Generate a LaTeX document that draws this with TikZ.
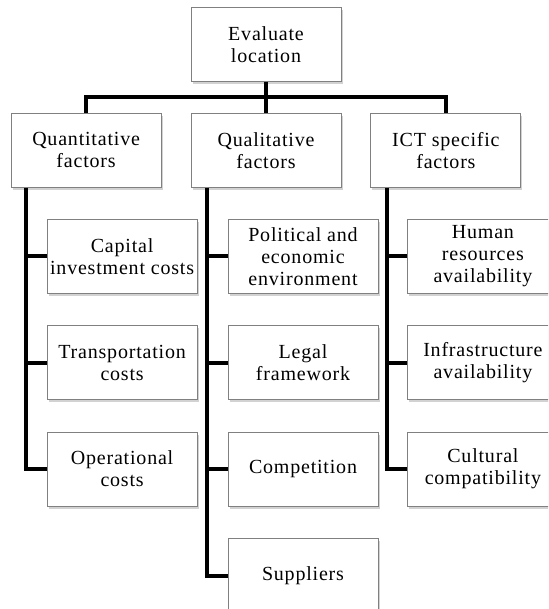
\documentclass[tikz,border=0pt]{standalone}
\usepackage{fontspec}
\setmainfont{Liberation Serif}[LetterSpace=4]
\usetikzlibrary{positioning, calc, shadows}
\tikzset{
    box/.style={draw=black!50, line width=0.9pt, fill=white, align=center,
        minimum width=150pt, minimum height=74pt, inner sep=1pt,
        font=\fontsize{20}{22}\selectfont,
        drop shadow={shadow xshift=1.5pt, shadow yshift=-2.5pt, fill=black!35}},
    link/.style={line width=4pt, draw=black}
}

\begin{document}
\begin{tikzpicture}[x=1pt, y=-1pt, node distance=31.5pt]
    \clip (0,0) rectangle (548,609);

    % --- ROOT ---
    \node[box] (root) at (266,44.5) {Evaluate\\location};

    % --- FACTOR GROUPS ---
    \node[box, below=31pt of root] (qual) {Qualitative\\factors};
    \node[box, left=29pt of qual] (quant) {Quantitative\\factors};
    \node[box, right=29pt of qual] (ict) {ICT specific\\factors};

    % --- QUANTITATIVE ---
    \node[box, below right=31pt and 36pt of quant.south west] (capital) {Capital\\investment costs};
    \node[box, below=of capital] (transport) {Transportation\\costs};
    \node[box, below=of transport] (operational) {Operational\\costs};

    % --- QUALITATIVE ---
    \node[box, below right=31pt and 37pt of qual.south west] (political) {Political and\\economic\\environment};
    \node[box, below=of political] (legal) {Legal\\framework};
    \node[box, below=of legal] (competition) {Competition};
    \node[box, below=of competition] (suppliers) {Suppliers};

    % --- ICT SPECIFIC ---
    \node[box, below right=31pt and 37pt of ict.south west] (human) {Human\\resources\\availability};
    \node[box, below=of human] (infra) {Infrastructure\\availability};
    \node[box, below=of infra] (cultural) {Cultural\\compatibility};

    % --- CONNECTIONS ---
    \coordinate (bar) at ($(root.south)!0.5!(qual.north)$);
    \draw[link] (root.south) -- (qual.north);
    \draw[link] (quant.north) |- (bar) -| (ict.north);

    \foreach \child in {capital, transport, operational}
        \draw[link] ([xshift=15pt]quant.south west) |- (\child.west);
    \foreach \child in {political, legal, competition, suppliers}
        \draw[link] ([xshift=16pt]qual.south west) |- (\child.west);
    \foreach \child in {human, infra, cultural}
        \draw[link] ([xshift=17pt]ict.south west) |- (\child.west);

\end{tikzpicture}
\end{document}
